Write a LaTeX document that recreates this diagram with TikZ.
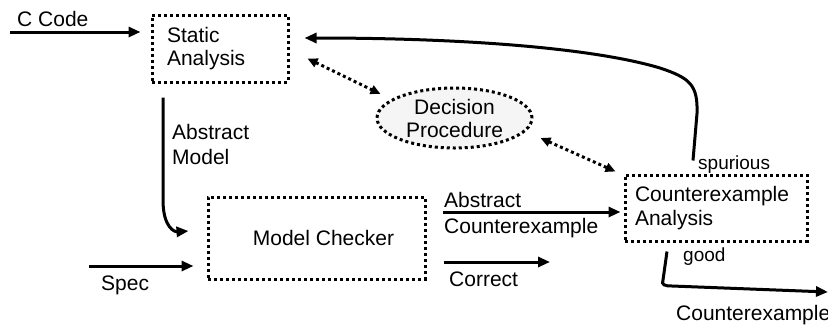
\documentclass[tikz,border=0pt]{standalone}
\usepackage{fontspec}
\setmainfont{Liberation Sans}
\usetikzlibrary{arrows.meta,shapes.geometric,calc}
\begin{document}
\begin{tikzpicture}[x=1pt,y=-1pt,
  font=\fontsize{21}{24}\selectfont,
  dotbox/.style={draw, line width=3pt, dash pattern=on 3pt off 3pt, inner sep=0pt},
  arr/.style={line width=3pt, -{Triangle[length=12pt,width=10pt]}},
  darr/.style={line width=3pt, dash pattern=on 3pt off 3pt, {Triangle[length=10pt,width=9pt]}-{Triangle[length=10pt,width=9pt]}},
  lbl/.style={inner sep=0pt, anchor=base west},
  small/.style={font=\fontsize{19}{22}\selectfont}]
\useasboundingbox[fill=white] (0,0) rectangle (828,327);

% boxes
\node[dotbox, minimum width=136pt, minimum height=67pt, text width=106pt, align=left,
      font=\fontsize{21}{23}\selectfont] (sa) at (220,48.5) {Static\\Analysis};
\node[dotbox, ellipse, fill=black!4, minimum width=155pt, minimum height=60pt,
      font=\fontsize{21}{23}\selectfont, align=center] (dp) at (454.5,118) {Decision\\Procedure};
\node[dotbox, minimum width=217pt, minimum height=82pt] (mc) at (316.5,238) {\hspace{14pt}Model Checker};
\node[dotbox, minimum width=182pt, minimum height=66pt, text width=162pt, align=left] (cea) at (716,208)
      {Counterexample\\Analysis\vphantom{p}};

% C Code input
\coordinate (ccin) at (10,32);
\draw[arr, shorten >=10pt] (ccin) -- (ccin -| sa.west);
\node[lbl] (lcc) at (17,26) {C Code};

% spurious feedback
\draw[arr] ($(cea.north)+(-23,-13)$) -- ++(4,-47)
  .. controls (698,85) and (690,78) .. (660,68)
  .. controls (600,50) and (480,38) .. ($(sa.east)+(15,-10.5)$);
\node[lbl, small] (lsp) at (698,169) {spurious};

% decision procedure links
\draw[darr] ($(sa.east)+(18,10)$) -- ($(dp.center)+(-74,-24)$);
\draw[darr] ($(dp.center)+(86,20)$) -- ($(cea.north west)+(-8,-2)$);

% abstract model
\draw[arr] ($(sa.south)+(-57,14)$) -- (163,200)
  .. controls (163,228) and (175,232) .. ($(mc.west)+(-18,-7)$);
\node[lbl, align=left, font=\fontsize{21}{25}\selectfont] (lam) at (172,164) {Abstract\\Model};

% spec
\coordinate (spin) at (89,266);
\draw[arr, shorten >=13pt] (spin) -- (spin -| mc.west);
\node[lbl] (lspec) at (101,290) {Spec};

% abstract counterexample
\draw[arr] ($(mc.east)+(16,-26)$) -- ($(cea.west)+(-3,4)$);
\node[lbl] (lac1) at (444,207) {Abstract};
\node[lbl] (lac2) at (444,233) {Counterexample};

% correct
\coordinate (corr) at (550,262);
\draw[arr] ($(mc.east)+(17,24)$) -- (corr);
\node[lbl] (lcor) at (449,286) {Correct};

% good
\coordinate (gout) at (828,292);
\draw[arr] ($(cea.south)+(-49,9)$) -- (663,280)
  .. controls (661,285) and (665,286) .. (672,286) -- (gout);
\node[lbl, small] (lgood) at (683,261) {good};
\node[lbl] (lce) at (676,320) {Counterexample};
\end{tikzpicture}
\end{document}
